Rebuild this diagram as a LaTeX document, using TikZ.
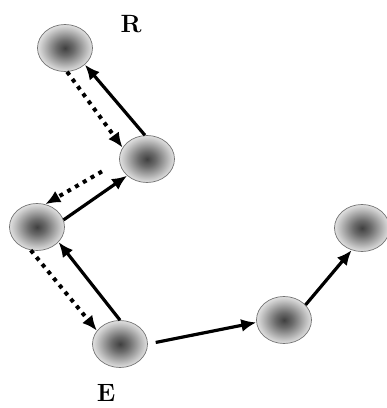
\documentclass[tikz,border=0pt]{standalone}
\usetikzlibrary{shapes.geometric,arrows.meta}
\pgfdeclareradialshading{ball}{\pgfpoint{0bp}{0bp}}{color(0bp)=(black!75); color(8bp)=(black!58); color(20bp)=(black!25); color(25bp)=(black!12); color(50bp)=(black!12)}
\tikzset{
  ball/.style={ellipse, minimum width=55pt, minimum height=47pt, draw=black!55, line width=0.7pt, shading=ball, inner sep=0pt},
  solidarrow/.style={line width=3.2pt, -{Latex[length=15pt,width=13pt]}},
  dotarrow/.style={line width=4pt, dash pattern=on 4pt off 5pt, -{Latex[length=15pt,width=13pt]}},
  lbl/.style={font=\fontsize{25}{28}\selectfont\bfseries}
}
\begin{document}
\begin{tikzpicture}[x=1pt,y=-1pt]
\useasboundingbox (0,0) rectangle (387,408);
\node[ball] (n1) at (65,48) {};
\node[ball] (n2) at (147,159) {};
\node[ball] (n3) at (37,227) {};
\node[ball] (n4) at (120,344) {};
\node[ball] (n5) at (284,320) {};
\node[ball] (n6) at (362,228) {};
\node[lbl] (r) at (131,24) {R};
\node[lbl] (e) at (106,393) {E};
\draw[solidarrow] (n2.95) -- (n1.-40);
\draw[dotarrow] (n1.-85) -- (n2.155);
\draw[solidarrow] (n3.15) -- (n2.-140);
\draw[dotarrow, shorten <=20pt] (n2.-175) -- (n3.70);
\draw[solidarrow] (n4.90) -- (n3.-35);
\draw[dotarrow] (n3.-105) -- (n4.150);
\draw[solidarrow, shorten <=8pt] (n4.0) -- (n5.185);
\draw[solidarrow] (n5.35) -- (n6.-115);
\end{tikzpicture}
\end{document}
